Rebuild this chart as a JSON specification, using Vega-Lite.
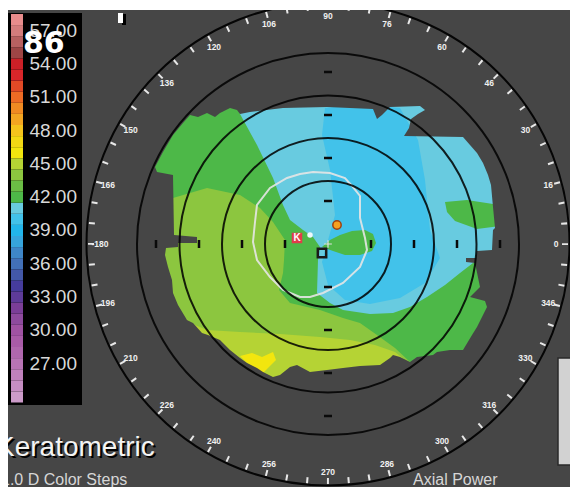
{
  "$schema": "https://vega.github.io/schema/vega-lite/v6.json",
  "width": 570,
  "height": 487,
  "autosize": "none",
  "padding": 0,
  "background": "#464646",
  "config": {"view": {"stroke": null}, "axis": {"disable": true}},
  "datasets": {
    "zones": [
      {"p":"base","i":0,"x":-190,"y":155,"v":42},{"p":"base","i":1,"x":190,"y":155,"v":42},{"p":"base","i":2,"x":190,"y":-147,"v":42},{"p":"base","i":3,"x":-190,"y":-147,"v":42},
      {"p":"lg","i":0,"x":-188,"y":46,"v":44},{"p":"lg","i":1,"x":-155,"y":46,"v":44},{"p":"lg","i":2,"x":-121,"y":56,"v":44},{"p":"lg","i":3,"x":-88,"y":49,"v":44},{"p":"lg","i":4,"x":-68,"y":36,"v":44},{"p":"lg","i":5,"x":-55,"y":22,"v":44},{"p":"lg","i":6,"x":-43,"y":4,"v":44},{"p":"lg","i":7,"x":-44,"y":-16,"v":44},{"p":"lg","i":8,"x":-45,"y":-29,"v":44},{"p":"lg","i":9,"x":-49,"y":-46,"v":44},{"p":"lg","i":10,"x":-38,"y":-59,"v":44},{"p":"lg","i":11,"x":-8,"y":-66,"v":44},{"p":"lg","i":12,"x":15,"y":-74,"v":44},{"p":"lg","i":13,"x":32,"y":-79,"v":44},{"p":"lg","i":14,"x":49,"y":-91,"v":44},{"p":"lg","i":15,"x":67,"y":-104,"v":44},{"p":"lg","i":16,"x":82,"y":-118,"v":44},{"p":"lg","i":17,"x":92,"y":-146,"v":44},{"p":"lg","i":18,"x":-188,"y":-146,"v":44},
      {"p":"yg","i":0,"x":-145,"y":-73,"v":45},{"p":"yg","i":1,"x":-133,"y":-81,"v":45},{"p":"yg","i":2,"x":-121,"y":-86,"v":45},{"p":"yg","i":3,"x":-88,"y":-88,"v":45},{"p":"yg","i":4,"x":-48,"y":-90,"v":45},{"p":"yg","i":5,"x":-8,"y":-93,"v":45},{"p":"yg","i":6,"x":22,"y":-96,"v":45},{"p":"yg","i":7,"x":47,"y":-101,"v":45},{"p":"yg","i":8,"x":67,"y":-108,"v":45},{"p":"yg","i":9,"x":77,"y":-116,"v":45},{"p":"yg","i":10,"x":92,"y":-131,"v":45},{"p":"yg","i":11,"x":92,"y":-146,"v":45},{"p":"yg","i":12,"x":-145,"y":-146,"v":45},
      {"p":"ye","i":0,"x":-88,"y":-112,"v":46},{"p":"ye","i":1,"x":-76,"y":-109,"v":46},{"p":"ye","i":2,"x":-66,"y":-113,"v":46},{"p":"ye","i":3,"x":-55,"y":-108,"v":46},{"p":"ye","i":4,"x":-52,"y":-116,"v":46},{"p":"ye","i":5,"x":-60,"y":-124,"v":46},{"p":"ye","i":6,"x":-66,"y":-130,"v":46},{"p":"ye","i":7,"x":-73,"y":-124,"v":46},{"p":"ye","i":8,"x":-82,"y":-118,"v":46},
      {"p":"c41","i":0,"x":-93,"y":144,"v":41},{"p":"c41","i":1,"x":-88,"y":130,"v":41},{"p":"c41","i":2,"x":-71,"y":99,"v":41},{"p":"c41","i":3,"x":-55,"y":66,"v":41},{"p":"c41","i":4,"x":-45,"y":39,"v":41},{"p":"c41","i":5,"x":-38,"y":24,"v":41},{"p":"c41","i":6,"x":-25,"y":14,"v":41},{"p":"c41","i":7,"x":-15,"y":7,"v":41},{"p":"c41","i":8,"x":-8,"y":-3,"v":41},{"p":"c41","i":9,"x":-10,"y":-16,"v":41},{"p":"c41","i":10,"x":-11,"y":-49,"v":41},{"p":"c41","i":11,"x":2,"y":-59,"v":41},{"p":"c41","i":12,"x":15,"y":-66,"v":41},{"p":"c41","i":13,"x":42,"y":-70,"v":41},{"p":"c41","i":14,"x":65,"y":-69,"v":41},{"p":"c41","i":15,"x":82,"y":-63,"v":41},{"p":"c41","i":16,"x":99,"y":-53,"v":41},{"p":"c41","i":17,"x":117,"y":-41,"v":41},{"p":"c41","i":18,"x":132,"y":-29,"v":41},{"p":"c41","i":19,"x":145,"y":-19,"v":41},{"p":"c41","i":20,"x":182,"y":-12,"v":41},{"p":"c41","i":21,"x":182,"y":149,"v":41},
      {"p":"c40","i":0,"x":-3,"y":136,"v":40},{"p":"c40","i":1,"x":32,"y":140,"v":40},{"p":"c40","i":2,"x":72,"y":136,"v":40},{"p":"c40","i":3,"x":90,"y":104,"v":40},{"p":"c40","i":4,"x":97,"y":64,"v":40},{"p":"c40","i":5,"x":102,"y":14,"v":40},{"p":"c40","i":6,"x":112,"y":-14,"v":40},{"p":"c40","i":7,"x":97,"y":-39,"v":40},{"p":"c40","i":8,"x":72,"y":-54,"v":40},{"p":"c40","i":9,"x":42,"y":-60,"v":40},{"p":"c40","i":10,"x":17,"y":-56,"v":40},{"p":"c40","i":11,"x":0,"y":-41,"v":40},{"p":"c40","i":12,"x":-6,"y":-18,"v":40},{"p":"c40","i":13,"x":7,"y":29,"v":40},{"p":"c40","i":14,"x":2,"y":74,"v":40},{"p":"c40","i":15,"x":-6,"y":109,"v":40},
      {"p":"tg","i":0,"x":-6,"y":-3,"v":42},{"p":"tg","i":1,"x":2,"y":4,"v":42},{"p":"tg","i":2,"x":12,"y":9,"v":42},{"p":"tg","i":3,"x":24,"y":13,"v":42},{"p":"tg","i":4,"x":37,"y":14,"v":42},{"p":"tg","i":5,"x":45,"y":10,"v":42},{"p":"tg","i":6,"x":48,"y":1,"v":42},{"p":"tg","i":7,"x":44,"y":-7,"v":42},{"p":"tg","i":8,"x":32,"y":-11,"v":42},{"p":"tg","i":9,"x":17,"y":-11,"v":42},{"p":"tg","i":10,"x":5,"y":-7,"v":42},
      {"p":"pt","i":0,"x":117,"y":42,"v":42},{"p":"pt","i":1,"x":139,"y":44,"v":42},{"p":"pt","i":2,"x":165,"y":40,"v":42},{"p":"pt","i":3,"x":172,"y":38,"v":42},{"p":"pt","i":4,"x":172,"y":18,"v":42},{"p":"pt","i":5,"x":149,"y":15,"v":42},{"p":"pt","i":6,"x":127,"y":23,"v":42},{"p":"pt","i":7,"x":119,"y":32,"v":42}
    ],
    "mask": [
      {"i":0,"x":-200,"y":160},{"i":1,"x":200,"y":160},{"i":2,"x":200,"y":-150},{"i":3,"x":-200,"y":-150},{"i":4,"x":-200,"y":77},{"i":5,"x":-173,"y":77},{"i":6,"x":-171,"y":72},{"i":7,"x":-155,"y":69},{"i":8,"x":-154,"y":9},{"i":9,"x":-131,"y":7},{"i":10,"x":-131,"y":1},{"i":11,"x":-150,"y":1},{"i":12,"x":-150,"y":-3},{"i":13,"x":-162,"y":-4},{"i":14,"x":-163,"y":-11},{"i":15,"x":-160,"y":-23},{"i":16,"x":-156,"y":-36},{"i":17,"x":-155,"y":-49},{"i":18,"x":-150,"y":-61},{"i":19,"x":-141,"y":-76},{"i":20,"x":-135,"y":-79},{"i":21,"x":-126,"y":-89},{"i":22,"x":-120,"y":-91},{"i":23,"x":-108,"y":-96},{"i":24,"x":-98,"y":-106},{"i":25,"x":-88,"y":-114},{"i":26,"x":-81,"y":-119},{"i":27,"x":-71,"y":-124},{"i":28,"x":-65,"y":-128},{"i":29,"x":-55,"y":-133},{"i":30,"x":-48,"y":-131},{"i":31,"x":-38,"y":-123},{"i":32,"x":-31,"y":-121},{"i":33,"x":-18,"y":-128},{"i":34,"x":-1,"y":-126},{"i":35,"x":15,"y":-124},{"i":36,"x":32,"y":-122},{"i":37,"x":52,"y":-121},{"i":38,"x":62,"y":-114},{"i":39,"x":65,"y":-111},{"i":40,"x":72,"y":-113},{"i":41,"x":82,"y":-118},{"i":42,"x":89,"y":-113},{"i":43,"x":105,"y":-111},{"i":44,"x":109,"y":-108},{"i":45,"x":122,"y":-106},{"i":46,"x":135,"y":-106},{"i":47,"x":144,"y":-91},{"i":48,"x":149,"y":-83},{"i":49,"x":159,"y":-63},{"i":50,"x":157,"y":-57},{"i":51,"x":142,"y":-53},{"i":52,"x":152,"y":-43},{"i":53,"x":147,"y":-19},{"i":54,"x":138,"y":-18},{"i":55,"x":138,"y":-14},{"i":56,"x":148,"y":-14},{"i":57,"x":149,"y":-7},{"i":58,"x":164,"y":-6},{"i":59,"x":165,"y":14},{"i":60,"x":167,"y":16},{"i":61,"x":165,"y":37},{"i":62,"x":163,"y":59},{"i":63,"x":160,"y":69},{"i":64,"x":155,"y":81},{"i":65,"x":149,"y":91},{"i":66,"x":142,"y":99},{"i":67,"x":135,"y":107},{"i":68,"x":76,"y":108},{"i":69,"x":81,"y":116},{"i":70,"x":83,"y":125},{"i":71,"x":90,"y":130},{"i":72,"x":97,"y":134},{"i":73,"x":92,"y":138},{"i":74,"x":62,"y":137},{"i":75,"x":54,"y":129},{"i":76,"x":49,"y":125},{"i":77,"x":45,"y":135},{"i":78,"x":-1,"y":137},{"i":79,"x":-45,"y":136},{"i":80,"x":-78,"y":132},{"i":81,"x":-88,"y":130},{"i":82,"x":-91,"y":134},{"i":83,"x":-98,"y":136},{"i":84,"x":-108,"y":131},{"i":85,"x":-113,"y":127},{"i":86,"x":-121,"y":131},{"i":87,"x":-130,"y":127},{"i":88,"x":-138,"y":129},{"i":89,"x":-145,"y":121},{"i":90,"x":-155,"y":109},{"i":91,"x":-165,"y":92},{"i":92,"x":-173,"y":77},{"i":93,"x":-200,"y":77}
    ],
    "contour": [
      {"i":0,"x":-15,"y":72},{"i":1,"x":2,"y":71},{"i":2,"x":17,"y":66},{"i":3,"x":24,"y":58},{"i":4,"x":32,"y":48},{"i":5,"x":32,"y":26},{"i":6,"x":37,"y":6},{"i":7,"x":39,"y":-6},{"i":8,"x":32,"y":-23},{"i":9,"x":15,"y":-39},{"i":10,"x":-5,"y":-49},{"i":11,"x":-18,"y":-53},{"i":12,"x":-28,"y":-53},{"i":13,"x":-45,"y":-46},{"i":14,"x":-58,"y":-33},{"i":15,"x":-71,"y":-16},{"i":16,"x":-75,"y":2},{"i":17,"x":-73,"y":22},{"i":18,"x":-71,"y":39},{"i":19,"x":-58,"y":56},{"i":20,"x":-41,"y":66},{"i":21,"x":-28,"y":70}
    ],
    "rings": [{"r":63},{"r":106},{"r":148.5},{"r":191}],
    "dashes": [{"d":-172},{"d":-129},{"d":-86},{"d":-43},{"d":43},{"d":86},{"d":129},{"d":172}],
    "angles": [
      {"a":0,"t":"0"},{"a":15,"t":"16"},{"a":30,"t":"30"},{"a":45,"t":"46"},{"a":60,"t":"60"},{"a":75,"t":"76"},{"a":90,"t":"90"},{"a":105,"t":"106"},{"a":120,"t":"120"},{"a":135,"t":"136"},{"a":150,"t":"150"},{"a":165,"t":"166"},{"a":180,"t":"-180"},{"a":195,"t":"196"},{"a":210,"t":"210"},{"a":225,"t":"226"},{"a":240,"t":"240"},{"a":255,"t":"256"},{"a":270,"t":"270"},{"a":285,"t":"286"},{"a":300,"t":"300"},{"a":315,"t":"316"},{"a":330,"t":"330"},{"a":345,"t":"346"}
    ],
    "markers": [
      {"k":"white","x":-18,"y":9},{"k":"orange","x":9,"y":19},{"k":"box","x":-6,"y":-9},{"k":"cross","x":0,"y":0},{"k":"K","x":-31,"y":6}
    ],
    "legend": [
      {"v":24,"lo":23.5,"hi":24.5},{"v":25,"lo":24.5,"hi":25.5},{"v":26,"lo":25.5,"hi":26.5},{"v":27,"lo":26.5,"hi":27.5},{"v":28,"lo":27.5,"hi":28.5},{"v":29,"lo":28.5,"hi":29.5},{"v":30,"lo":29.5,"hi":30.5},{"v":31,"lo":30.5,"hi":31.5},{"v":32,"lo":31.5,"hi":32.5},{"v":33,"lo":32.5,"hi":33.5},{"v":34,"lo":33.5,"hi":34.5},{"v":35,"lo":34.5,"hi":35.5},{"v":36,"lo":35.5,"hi":36.5},{"v":37,"lo":36.5,"hi":37.5},{"v":38,"lo":37.5,"hi":38.5},{"v":39,"lo":38.5,"hi":39.5},{"v":40,"lo":39.5,"hi":40.5},{"v":41,"lo":40.5,"hi":41.5},{"v":42,"lo":41.5,"hi":42.5},{"v":43,"lo":42.5,"hi":43.5},{"v":44,"lo":43.5,"hi":44.5},{"v":45,"lo":44.5,"hi":45.5},{"v":46,"lo":45.5,"hi":46.5},{"v":47,"lo":46.5,"hi":47.5},{"v":48,"lo":47.5,"hi":48.5},{"v":49,"lo":48.5,"hi":49.5},{"v":50,"lo":49.5,"hi":50.5},{"v":51,"lo":50.5,"hi":51.5},{"v":52,"lo":51.5,"hi":52.5},{"v":53,"lo":52.5,"hi":53.5},{"v":54,"lo":53.5,"hi":54.5},{"v":55,"lo":54.5,"hi":55.5},{"v":56,"lo":55.5,"hi":56.5},{"v":57,"lo":56.5,"hi":57.5},{"v":58,"lo":57.5,"hi":58.5}
    ]
  },
  "resolve": {"scale": {"x": "independent", "y": "independent"}},
  "layer": [
    {
      "layer": [
        {"data": {"values": [{}]}, "mark": {"type": "rect", "fill": "#000000"},
         "encoding": {
           "x": {"datum": 0, "type": "quantitative", "scale": {"domain": [0, 74], "range": [8, 82], "zero": false, "nice": false}, "axis": null},
           "x2": {"datum": 74},
           "y": {"datum": 58.6, "type": "quantitative", "scale": {"domain": [23.5, 58.5], "range": [402.5, 14], "zero": false, "nice": false}, "axis": null},
           "y2": {"datum": 23.27}}},
        {"data": {"name": "legend"}, "mark": {"type": "rect"},
         "encoding": {
           "x": {"datum": 3, "type": "quantitative"},
           "x2": {"datum": 15},
           "y": {"field": "hi", "type": "quantitative"},
           "y2": {"field": "lo"},
           "fill": {"field": "v", "type": "ordinal", "legend": null, "scale": {"type": "ordinal", "domain": [24,25,26,27,28,29,30,31,32,33,34,35,36,37,38,39,40,41,42,43,44,45,46,47,48,49,50,51,52,53,54,55,56,57,58], "range": ["#cc9bc9","#c68ec3","#c081bd","#b874b5","#b067ae","#a95ba8","#a052a3","#8e4a9e","#7b3e98","#5e3b99","#463c9c","#4358a8","#4270b8","#3e86c8","#36a4dc","#22b5ea","#42c2ea","#68cbe0","#4db848","#6bbd45","#8cc63f","#b5d334","#f2e60e","#f2d814","#f4c31c","#f3a521","#f08a22","#ee6b24","#e24a26","#d9262a","#cc2027","#9e4545","#b86060","#d47c7c","#e88c8c"]}}}},
        {"data": {"name": "legend"}, "transform": [{"filter": "datum.v % 3 == 0 && datum.v >= 27"}],
         "mark": {"type": "text", "align": "right", "baseline": "middle", "font": "Liberation Sans", "fontSize": 19, "fill": "#d8d8d8"},
         "encoding": {
           "x": {"datum": 69, "type": "quantitative"},
           "y": {"field": "v", "type": "quantitative"},
           "text": {"field": "v", "type": "quantitative", "format": ".2f"}}}
      ]
    },
    {
      "layer": [
        {"data": {"name": "zones"}, "transform": [{"filter": "datum.p == 'base'"}],
         "mark": {"type": "line", "strokeWidth": 0, "strokeOpacity": 0},
         "encoding": {
           "x": {"field": "x", "type": "quantitative", "scale": {"domain": [-328, 242], "zero": false, "nice": false}, "axis": null},
           "y": {"field": "y", "type": "quantitative", "scale": {"domain": [-243, 244], "zero": false, "nice": false}, "axis": null},
           "order": {"field": "i"},
           "fill": {"field": "v", "type": "ordinal", "legend": null, "scale": {"type": "ordinal", "domain": [24,25,26,27,28,29,30,31,32,33,34,35,36,37,38,39,40,41,42,43,44,45,46,47,48,49,50,51,52,53,54,55,56,57,58], "range": ["#cc9bc9","#c68ec3","#c081bd","#b874b5","#b067ae","#a95ba8","#a052a3","#8e4a9e","#7b3e98","#5e3b99","#463c9c","#4358a8","#4270b8","#3e86c8","#36a4dc","#22b5ea","#42c2ea","#68cbe0","#4db848","#6bbd45","#8cc63f","#b5d334","#f2e60e","#f2d814","#f4c31c","#f3a521","#f08a22","#ee6b24","#e24a26","#d9262a","#cc2027","#9e4545","#b86060","#d47c7c","#e88c8c"]}}}},
        {"data": {"name": "zones"}, "transform": [{"filter": "datum.p == 'lg'"}],
         "mark": {"type": "line", "strokeWidth": 0, "strokeOpacity": 0},
         "encoding": {"x": {"field": "x", "type": "quantitative"}, "y": {"field": "y", "type": "quantitative"}, "order": {"field": "i"}, "fill": {"field": "v", "type": "ordinal", "legend": null}}},
        {"data": {"name": "zones"}, "transform": [{"filter": "datum.p == 'yg'"}],
         "mark": {"type": "line", "strokeWidth": 0, "strokeOpacity": 0},
         "encoding": {"x": {"field": "x", "type": "quantitative"}, "y": {"field": "y", "type": "quantitative"}, "order": {"field": "i"}, "fill": {"field": "v", "type": "ordinal", "legend": null}}},
        {"data": {"name": "zones"}, "transform": [{"filter": "datum.p == 'ye'"}],
         "mark": {"type": "line", "strokeWidth": 0, "strokeOpacity": 0},
         "encoding": {"x": {"field": "x", "type": "quantitative"}, "y": {"field": "y", "type": "quantitative"}, "order": {"field": "i"}, "fill": {"field": "v", "type": "ordinal", "legend": null}}},
        {"data": {"name": "zones"}, "transform": [{"filter": "datum.p == 'c41'"}],
         "mark": {"type": "line", "strokeWidth": 0, "strokeOpacity": 0},
         "encoding": {"x": {"field": "x", "type": "quantitative"}, "y": {"field": "y", "type": "quantitative"}, "order": {"field": "i"}, "fill": {"field": "v", "type": "ordinal", "legend": null}}},
        {"data": {"name": "zones"}, "transform": [{"filter": "datum.p == 'c40'"}],
         "mark": {"type": "line", "strokeWidth": 0, "strokeOpacity": 0},
         "encoding": {"x": {"field": "x", "type": "quantitative"}, "y": {"field": "y", "type": "quantitative"}, "order": {"field": "i"}, "fill": {"field": "v", "type": "ordinal", "legend": null}}},
        {"data": {"name": "zones"}, "transform": [{"filter": "datum.p == 'tg'"}],
         "mark": {"type": "line", "strokeWidth": 0, "strokeOpacity": 0},
         "encoding": {"x": {"field": "x", "type": "quantitative"}, "y": {"field": "y", "type": "quantitative"}, "order": {"field": "i"}, "fill": {"field": "v", "type": "ordinal", "legend": null}}},
        {"data": {"name": "zones"}, "transform": [{"filter": "datum.p == 'pt'"}],
         "mark": {"type": "line", "strokeWidth": 0, "strokeOpacity": 0},
         "encoding": {"x": {"field": "x", "type": "quantitative"}, "y": {"field": "y", "type": "quantitative"}, "order": {"field": "i"}, "fill": {"field": "v", "type": "ordinal", "legend": null}}},
        {"data": {"name": "mask"},
         "mark": {"type": "line", "fill": "#464646", "strokeWidth": 0, "strokeOpacity": 0},
         "encoding": {"x": {"field": "x", "type": "quantitative"}, "y": {"field": "y", "type": "quantitative"}, "order": {"field": "i"}}},
        {"data": {"name": "contour"},
         "mark": {"type": "line", "interpolate": "linear-closed", "stroke": "#e6e6e6", "strokeWidth": 2, "opacity": 0.9},
         "encoding": {"x": {"field": "x", "type": "quantitative"}, "y": {"field": "y", "type": "quantitative"}, "order": {"field": "i"}}},
        {"data": {"name": "rings"},
         "mark": {"type": "point", "shape": "circle", "filled": false, "stroke": "#000000", "strokeWidth": 2, "opacity": 0.85},
         "encoding": {"x": {"datum": 0, "type": "quantitative"}, "y": {"datum": 0, "type": "quantitative"},
           "size": {"field": "r", "type": "quantitative", "legend": null, "scale": {"type": "pow", "exponent": 2, "domain": [0, 100], "range": [0, 40000]}}}},
        {"data": {"values": [{"r": 241.5}]},
         "mark": {"type": "point", "shape": "circle", "filled": false, "stroke": "#050505", "strokeWidth": 2, "opacity": 1},
         "encoding": {"x": {"datum": 0, "type": "quantitative"}, "y": {"datum": 0, "type": "quantitative"}, "size": {"field": "r", "type": "quantitative", "legend": null}}},
        {"data": {"values": [{"r": 237}]},
         "mark": {"type": "point", "shape": "circle", "filled": false, "stroke": "#e8e8e8", "strokeWidth": 6, "strokeDash": [2, 18.682], "strokeDashOffset": 1, "opacity": 1},
         "encoding": {"x": {"datum": 0, "type": "quantitative"}, "y": {"datum": 0, "type": "quantitative"}, "size": {"field": "r", "type": "quantitative", "legend": null}}},
        {"data": {"name": "dashes"},
         "mark": {"type": "tick", "orient": "horizontal", "size": 8, "thickness": 2.5, "color": "#0a0a0a", "opacity": 1},
         "encoding": {"x": {"datum": 0, "type": "quantitative"}, "y": {"field": "d", "type": "quantitative"}}},
        {"data": {"name": "dashes"},
         "mark": {"type": "tick", "orient": "vertical", "size": 8, "thickness": 2.5, "color": "#0a0a0a", "opacity": 1},
         "encoding": {"x": {"field": "d", "type": "quantitative"}, "y": {"datum": 0, "type": "quantitative"}}},
        {"data": {"name": "markers"}, "transform": [{"filter": "datum.k == 'white'"}],
         "mark": {"type": "circle", "size": 30, "fill": "#eef8fb", "opacity": 1},
         "encoding": {"x": {"field": "x", "type": "quantitative"}, "y": {"field": "y", "type": "quantitative"}}},
        {"data": {"name": "markers"}, "transform": [{"filter": "datum.k == 'orange'"}],
         "mark": {"type": "circle", "size": 70, "fill": "#f5a020", "stroke": "#a0400f", "strokeWidth": 1.5, "opacity": 1},
         "encoding": {"x": {"field": "x", "type": "quantitative"}, "y": {"field": "y", "type": "quantitative"}}},
        {"data": {"name": "markers"}, "transform": [{"filter": "datum.k == 'box'"}],
         "mark": {"type": "point", "shape": "square", "size": 70, "filled": false, "stroke": "#1a1a1a", "strokeWidth": 2.5, "opacity": 1},
         "encoding": {"x": {"field": "x", "type": "quantitative"}, "y": {"field": "y", "type": "quantitative"}}},
        {"data": {"name": "markers"}, "transform": [{"filter": "datum.k == 'cross'"}],
         "mark": {"type": "point", "shape": "M-1,0L1,0M0,-1L0,1", "size": 60, "filled": false, "stroke": "#e0e0e0", "strokeWidth": 1.2, "opacity": 1},
         "encoding": {"x": {"field": "x", "type": "quantitative"}, "y": {"field": "y", "type": "quantitative"}}},
        {"data": {"name": "markers"}, "transform": [{"filter": "datum.k == 'K'"}],
         "mark": {"type": "square", "size": 110, "fill": "#e23b4a", "opacity": 1},
         "encoding": {"x": {"field": "x", "type": "quantitative"}, "y": {"field": "y", "type": "quantitative"}}},
        {"data": {"name": "markers"}, "transform": [{"filter": "datum.k == 'K'"}],
         "mark": {"type": "text", "text": "K", "font": "Liberation Sans", "fontWeight": "bold", "fontSize": 10, "fill": "#ffffff", "align": "center", "baseline": "middle"},
         "encoding": {"x": {"field": "x", "type": "quantitative"}, "y": {"field": "y", "type": "quantitative"}}},
        {"data": {"name": "angles"},
         "mark": {"type": "text", "font": "Liberation Sans", "fontWeight": "bold", "fontSize": 8.5, "fill": "#f0f0f0", "align": "center", "baseline": "middle"},
         "encoding": {
           "x": {"datum": 0, "type": "quantitative"}, "y": {"datum": 0, "type": "quantitative"},
           "theta": {"field": "a", "type": "quantitative", "stack": null, "scale": {"type": "linear", "domain": [90, -270], "range": [0, 6.2831853]}},
           "radius": {"datum": 228, "type": "quantitative", "scale": {"type": "linear", "domain": [0, 100], "range": [0, 100], "zero": true}},
           "text": {"field": "t", "type": "nominal"}}},
        {"data": {"values": [{}]},
         "mark": {"type": "text", "text": "86", "font": "DejaVu Sans", "fontWeight": "bold", "fontSize": 30, "fill": "#ffffff", "align": "left", "baseline": "alphabetic"},
         "encoding": {"x": {"datum": -305, "type": "quantitative"}, "y": {"datum": 191, "type": "quantitative"}}},
        {"data": {"values": [{}]},
         "mark": {"type": "text", "text": "Keratometric", "font": "Liberation Sans", "fontSize": 28, "fill": "#000000", "align": "left", "baseline": "alphabetic", "dx": 2, "dy": 2},
         "encoding": {"x": {"datum": -332, "type": "quantitative"}, "y": {"datum": -212, "type": "quantitative"}}},
        {"data": {"values": [{}]},
         "mark": {"type": "text", "text": "Keratometric", "font": "Liberation Sans", "fontSize": 28, "fill": "#f4f4f4", "align": "left", "baseline": "alphabetic"},
         "encoding": {"x": {"datum": -332, "type": "quantitative"}, "y": {"datum": -212, "type": "quantitative"}}},
        {"data": {"values": [{}]},
         "mark": {"type": "text", "text": "1.0 D Color Steps", "font": "Liberation Sans", "fontSize": 16, "fill": "#d6d6d6", "align": "left", "baseline": "alphabetic"},
         "encoding": {"x": {"datum": -327, "type": "quantitative"}, "y": {"datum": -241, "type": "quantitative"}}},
        {"data": {"values": [{}]},
         "mark": {"type": "text", "text": "Axial Power", "font": "Liberation Sans", "fontSize": 16, "fill": "#d6d6d6", "align": "left", "baseline": "alphabetic"},
         "encoding": {"x": {"datum": 85, "type": "quantitative"}, "y": {"datum": -241, "type": "quantitative"}}},
        {"data": {"values": [{}]},
         "mark": {"type": "rect", "fill": "#ffffff"},
         "encoding": {"x": {"datum": -328, "type": "quantitative"}, "x2": {"datum": -320}, "y": {"datum": -243, "type": "quantitative"}, "y2": {"datum": 244}}},
        {"data": {"values": [{}]},
         "mark": {"type": "rect", "fill": "#ffffff"},
         "encoding": {"x": {"datum": -328, "type": "quantitative"}, "x2": {"datum": 242}, "y": {"datum": 234, "type": "quantitative"}, "y2": {"datum": 244}}},
        {"data": {"values": [{}]},
         "mark": {"type": "rect", "fill": "#000000"},
         "encoding": {"x": {"datum": -206, "type": "quantitative"}, "x2": {"datum": -202}, "y": {"datum": 219, "type": "quantitative"}, "y2": {"datum": 230}}},
        {"data": {"values": [{}]},
         "mark": {"type": "rect", "fill": "#ffffff"},
         "encoding": {"x": {"datum": -210, "type": "quantitative"}, "x2": {"datum": -205}, "y": {"datum": 221, "type": "quantitative"}, "y2": {"datum": 231}}},
        {"data": {"values": [{}]},
         "mark": {"type": "rect", "fill": "#d2d2d2", "stroke": "#2a2a2a", "strokeWidth": 1.5},
         "encoding": {"x": {"datum": 230, "type": "quantitative"}, "x2": {"datum": 244}, "y": {"datum": -221, "type": "quantitative"}, "y2": {"datum": -114}}}
      ]
    }
  ]
}
